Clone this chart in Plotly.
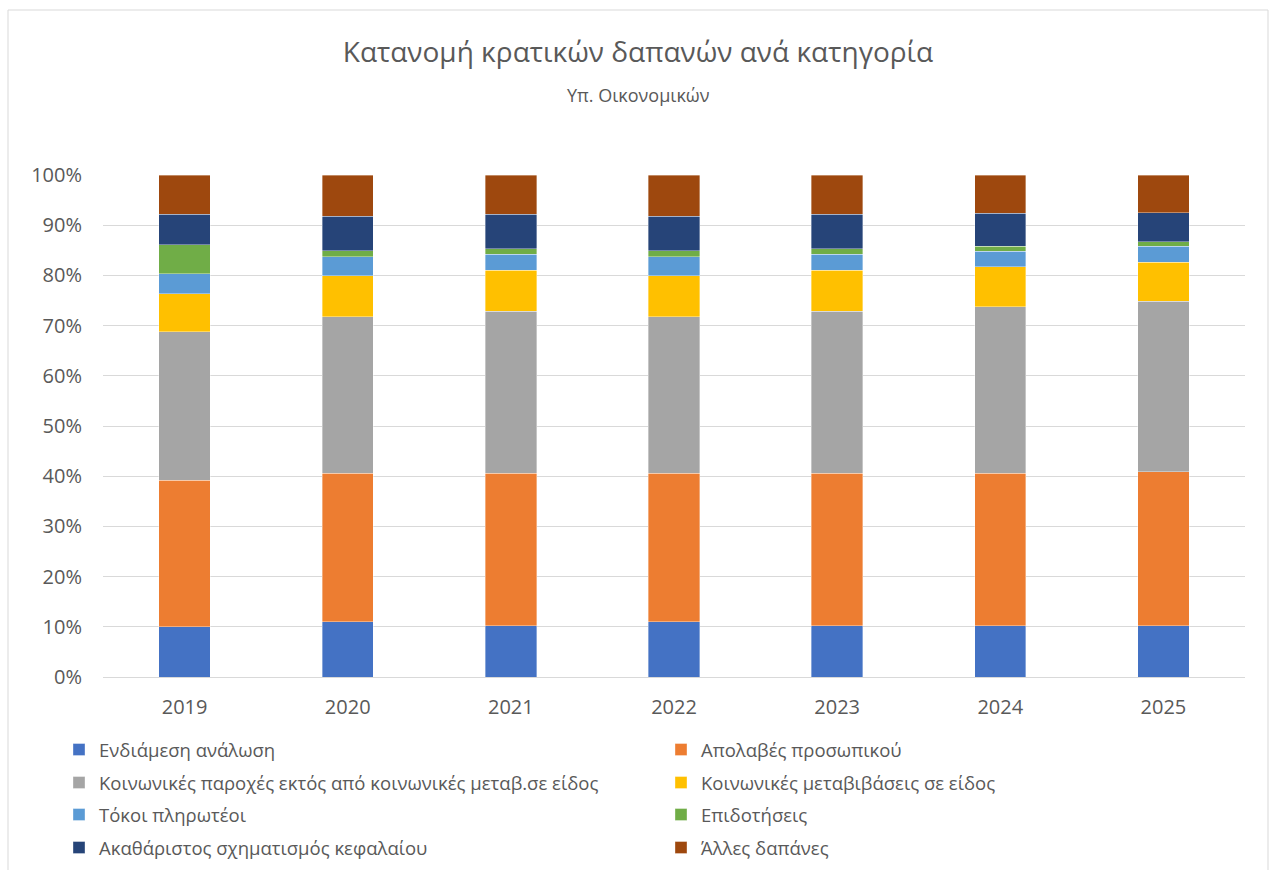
import plotly.graph_objects as go

years = ["2019", "2020", "2021", "2022", "2023", "2024", "2025"]

endiamesi = [10.0, 11.0, 10.2, 11.0, 10.2, 10.2, 10.2]
apolaves = [29.2, 29.6, 30.4, 29.6, 30.4, 30.4, 30.7]
paroxes = [29.6, 31.2, 32.3, 31.2, 32.3, 33.2, 34.0]
metavivaseis = [7.5, 8.1, 8.1, 8.1, 8.1, 7.9, 7.7]
tokoi = [4.0, 3.8, 3.2, 3.8, 3.2, 3.1, 3.2]
epidotiseis = [5.8, 1.2, 1.1, 1.2, 1.1, 1.0, 0.9]
akatharistos = [6.1, 6.9, 6.9, 6.9, 6.9, 6.6, 5.8]
alles = [7.8, 8.2, 7.8, 8.2, 7.8, 7.6, 7.5]

series_names = [
    "Ενδιάμεση ανάλωση",
    "Απολαβές προσωπικού",
    "Κοινωνικές παροχές εκτός από κοινωνικές μεταβ.σε είδος",
    "Κοινωνικές μεταβιβάσεις σε είδος",
    "Τόκοι πληρωτέοι",
    "Επιδοτήσεις",
    "Ακαθάριστος σχηματισμός κεφαλαίου",
    "Άλλες δαπάνες",
]
series_values = [endiamesi, apolaves, paroxes, metavivaseis, tokoi,
                 epidotiseis, akatharistos, alles]
series_colors = ["#4472C4", "#ED7D31", "#A5A5A5", "#FFC000",
                 "#5B9BD5", "#70AD47", "#264478", "#9E480E"]

W, H = 1276, 870
L, R, T, B = 103, 31, 175, 193
pw, ph = W - L - R, H - T - B


def px(x):
    return (x - L) / pw


def py(y):
    return (H - B - y) / ph


font_family = "Open Sans, Noto Sans, sans-serif"
gray_txt = "#595959"

# legend placement (container coords): two columns, four rows (text centres)
col_x = [59, 661]
row_mid = [750, 783, 815, 848]

fig = go.Figure()
legend_layouts = {}
for i, (name, vals, color) in enumerate(zip(series_names, series_values, series_colors)):
    key = "legend" if i == 0 else f"legend{i + 1}"
    fig.add_trace(go.Bar(
        x=years, y=vals, name=name, legend=key,
        marker=dict(color=color, line=dict(color="rgba(255,255,255,0.6)", width=0.6)),
    ))
    legend_layouts[key] = dict(
        orientation="h",
        xref="container", yref="container",
        x=col_x[i % 2] / W, xanchor="left",
        y=1 - row_mid[i // 2] / H, yanchor="middle",
        itemwidth=30,
        bgcolor="rgba(0,0,0,0)",
        font=dict(size=18.5, color=gray_txt, family=font_family),
    )

fig.update_layout(
    width=W, height=H,
    margin=dict(l=L, r=R, t=T, b=B),
    barmode="stack",
    barnorm="percent",
    bargap=0.685,
    plot_bgcolor="white",
    paper_bgcolor="white",
    font=dict(family=font_family, color=gray_txt),
    title=dict(
        text="Κατανομή κρατικών δαπανών ανά κατηγορία",
        x=0.5, xanchor="center", y=1 - 52 / H, yanchor="middle",
        font=dict(size=28, color=gray_txt, family=font_family),
    ),
    xaxis=dict(
        showgrid=False, showline=True, linecolor="#D9D9D9", linewidth=1,
        tickfont=dict(size=20, color=gray_txt), ticks="",
        ticklabelstandoff=12, automargin=False,
    ),
    yaxis=dict(
        range=[0, 100], dtick=10, ticksuffix="%",
        showgrid=True, gridcolor="#D9D9D9", gridwidth=1,
        zeroline=False, showline=False,
        tickfont=dict(size=20, color=gray_txt), ticks="",
        ticklabelstandoff=20, automargin=False,
    ),
    showlegend=True,
    **legend_layouts,
)

fig.add_annotation(
    text="Υπ. Οικονομικών", xref="paper", yref="paper",
    x=px(638), y=py(95), xanchor="center", yanchor="middle",
    showarrow=False, font=dict(size=18, color=gray_txt, family=font_family),
)

fig.add_shape(
    type="rect", xref="paper", yref="paper",
    x0=px(8), x1=px(1268), y0=py(900), y1=py(10),
    line=dict(color="#D9D9D9", width=1), fillcolor="rgba(0,0,0,0)", layer="below",
)

fig.write_html("out.html")
